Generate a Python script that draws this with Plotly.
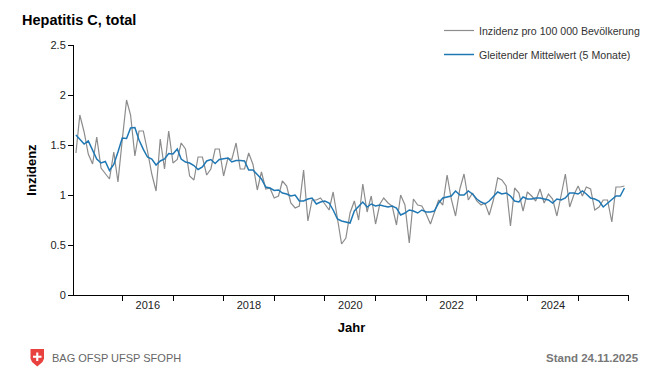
import plotly.graph_objects as go
import pandas as pd

# ---- data (monthly, Jan 2015 .. Nov 2025) ----
month_start = "2015-01"
n_months = 131

incidence = [
    1.42, 1.80, 1.63, 1.41, 1.31, 1.58, 1.27, 1.21, 1.16, 1.43,
    1.13, 1.55, 1.95, 1.80, 1.39, 1.64, 1.64, 1.44, 1.21, 1.04,
    1.56, 1.26, 1.64, 1.32, 1.355, 1.52, 1.46, 1.19, 1.15, 1.38,
    1.38, 1.20, 1.26, 1.46, 1.46, 1.19, 1.37, 1.355, 1.52, 1.26,
    1.26, 1.42, 1.305, 1.05, 1.23, 1.06, 1.07, 0.97, 0.99, 1.14,
    1.09, 0.92, 0.87, 0.89, 1.25, 0.74, 0.95, 0.95, 0.97, 0.91,
    0.85, 1.03, 0.77, 0.51, 0.57, 0.82, 0.94, 0.75, 1.11, 0.83,
    0.99, 0.71, 0.91, 0.97, 0.92, 0.89, 0.70, 1.00, 0.90, 0.52,
    0.96, 0.90, 0.89, 0.81, 0.71, 0.82, 0.95, 0.90, 1.20, 0.96,
    0.79, 1.06, 1.21, 0.95, 1.02, 0.94, 0.90, 0.92, 0.80, 0.95,
    1.17, 1.15, 1.09, 0.69, 1.07, 1.02, 0.84, 1.03, 0.99, 0.94,
    1.06, 0.92, 1.01, 0.96, 0.79, 1.00, 1.21, 0.88, 1.00, 1.09,
    0.99, 1.08, 1.06, 0.85, 0.88, 0.95, 0.95, 0.73, 1.08, 1.08,
    1.09,
]

moving_avg = [
    1.60, 1.56, 1.51, 1.54, 1.45, 1.36, 1.32, 1.335, 1.245, 1.305,
    1.43, 1.57, 1.565, 1.67, 1.675, 1.55, 1.456, 1.38, 1.36, 1.30,
    1.34, 1.36, 1.415, 1.41, 1.46, 1.36, 1.33, 1.32, 1.295, 1.255,
    1.28, 1.34, 1.355, 1.315, 1.355, 1.365, 1.37, 1.33, 1.345, 1.345,
    1.34, 1.25, 1.25, 1.205, 1.16, 1.08, 1.07, 1.045, 1.05, 1.02,
    1.01, 0.99, 1.00, 0.94, 0.94, 0.96, 0.97, 0.91, 0.93, 0.94,
    0.92, 0.85, 0.76, 0.74, 0.73, 0.72, 0.84, 0.89, 0.93, 0.88,
    0.91, 0.89, 0.90, 0.89, 0.88, 0.89, 0.87, 0.80, 0.82, 0.85,
    0.84, 0.82, 0.85, 0.83, 0.83, 0.84, 0.92, 0.97, 0.98, 0.99,
    1.04, 1.00, 1.00, 1.04, 1.01, 0.96, 0.93, 0.91, 0.94, 0.99,
    1.03, 1.01, 1.02, 0.99, 0.94, 0.93, 0.98, 0.96, 0.96, 0.97,
    0.97, 0.96, 0.95, 0.92, 0.96, 0.95, 0.97, 1.02, 1.02, 1.01,
    1.04, 1.01, 0.97, 0.96, 0.94, 0.88, 0.92, 0.95, 0.99, 0.99,
    1.07,
]

label_years = [2016, 2018, 2020, 2022, 2024]
boundary_years = list(range(2016, 2027))
y_ticks = [0, 0.5, 1, 1.5, 2, 2.5]

series_names = ["Inzidenz pro 100 000 Bevölkerung", "Gleitender Mittelwert (5 Monate)"]
title_text = "Hepatitis C, total"
x_title = "Jahr"
y_title = "Inzidenz"
footer_left = "BAG OFSP UFSP SFOPH"
footer_right = "Stand 24.11.2025"

# ---- build ----
dates = pd.date_range(start=month_start, periods=n_months, freq="MS") + pd.offsets.MonthEnd(0)

W, H = 650, 368
ML, MR, MT, MB = 74, 21, 45, 73
PW, PH = W - ML - MR, H - MT - MB

def px_x(x):
    return (x - ML) / PW

def px_y(y):
    return (H - MB - y) / PH

FONT = "Liberation Sans, Arial, sans-serif"
GRAY = "#8c8c8c"
BLUE = "#1f78b4"

fig = go.Figure()
fig.add_trace(go.Scatter(x=dates, y=incidence, mode="lines", name=series_names[0],
                         line=dict(color=GRAY, width=1.2), legendgroup="a"))
fig.add_trace(go.Scatter(x=dates, y=moving_avg, mode="lines", name=series_names[1],
                         line=dict(color=BLUE, width=1.5), legendgroup="b"))

fig.update_layout(
    width=W, height=H,
    margin=dict(l=ML, r=MR, t=MT, b=MB, pad=0, autoexpand=False),
    paper_bgcolor="white", plot_bgcolor="white",
    font=dict(family=FONT, size=11, color="#222"),
    title=dict(text=title_text, x=22 / W, xanchor="left", xref="container",
               y=1 - 20 / H, yanchor="middle", yref="container",
               font=dict(family=FONT, size=14.5, color="black", weight="bold")),
    showlegend=True,
    legend=dict(x=px_x(439), xanchor="left", y=px_y(16), yanchor="top",
                bgcolor="rgba(0,0,0,0)", font=dict(family=FONT, size=10.6, color="#333"),
                tracegroupgap=5, itemwidth=30),
    hovermode=False,
)

fig.update_xaxes(
    type="date",
    range=["2015-01-17", "2026-01-02"],
    showgrid=False, zeroline=False,
    showline=True, linecolor="black", linewidth=1,
    tickmode="array",
    tickvals=[f"{y}-07-02" for y in label_years],
    ticktext=[str(y) for y in label_years],
    ticks="", tickfont=dict(family=FONT, size=11, color="#222"),
    minor=dict(tickmode="array", tickvals=[f"{y}-01-01" for y in boundary_years],
               ticks="outside", ticklen=5, tickcolor="black", tickwidth=1, showgrid=False),
    title=dict(text=x_title, font=dict(family=FONT, size=13, color="black", weight="bold"), standoff=12),
)

fig.update_yaxes(
    range=[0, 2.5],
    showgrid=False, zeroline=False,
    showline=True, linecolor="black", linewidth=1,
    tickmode="array", tickvals=y_ticks, ticktext=[f"{v:g}" for v in y_ticks],
    ticks="outside", ticklen=5, tickcolor="black", tickwidth=1,
    tickfont=dict(family=FONT, size=11, color="#222"),
    title=dict(text=y_title, font=dict(family=FONT, size=13, color="black", weight="bold"), standoff=10),
)

# footer: Swiss shield logo + text
def path_px(points):
    s = ""
    for i, (x, y) in enumerate(points):
        s += ("M" if i == 0 else "L") + f"{px_x(x):.5f},{px_y(y):.5f} "
    return s + "Z"

shield = path_px([(30.5, 349), (44, 349), (44, 358.5), (42.5, 362), (37.25, 366.5), (32, 362), (30.5, 358.5)])
cross_v = path_px([(36.2, 352.5), (38.3, 352.5), (38.3, 361), (36.2, 361)])
cross_h = path_px([(33, 355.7), (41.5, 355.7), (41.5, 357.8), (33, 357.8)])
fig.add_shape(type="path", path=shield, xref="paper", yref="paper",
              fillcolor="#e8423f", line=dict(width=0), layer="above")
for p in (cross_v, cross_h):
    fig.add_shape(type="path", path=p, xref="paper", yref="paper",
                  fillcolor="white", line=dict(width=0), layer="above")

fig.add_annotation(text=footer_left, xref="paper", yref="paper", x=px_x(50), y=px_y(357.5),
                   xanchor="left", yanchor="middle", showarrow=False,
                   font=dict(family=FONT, size=11, color="#666"))
fig.add_annotation(text=footer_right, xref="paper", yref="paper", x=px_x(641), y=px_y(357.5),
                   xanchor="right", yanchor="middle", showarrow=False,
                   font=dict(family=FONT, size=11.5, color="#777", weight="bold"))

fig.write_html("out.html", config={"displayModeBar": False, "staticPlot": True},
               post_script="document.body.style.margin='0px';document.body.style.overflow='hidden';")
